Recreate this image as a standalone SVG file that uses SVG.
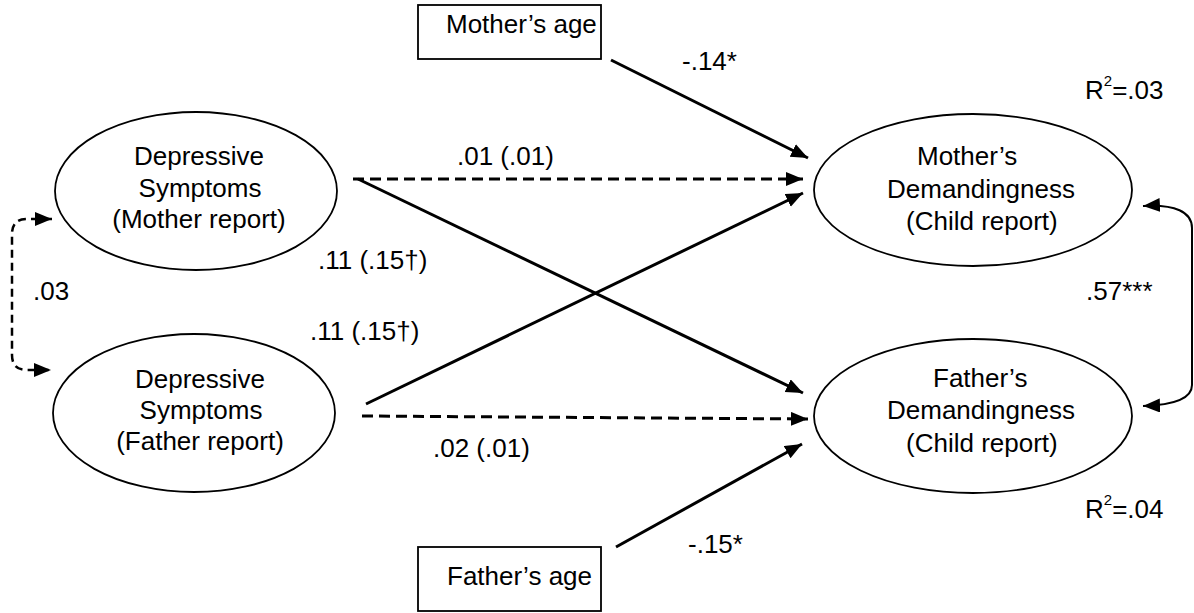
<svg xmlns="http://www.w3.org/2000/svg" width="1194" height="613" viewBox="0 0 1194 613">
<defs>
<style>
text{font-family:"Liberation Sans",Arial,sans-serif;font-size:26px;fill:#000}
.sh{fill:#fff;stroke:#000;stroke-width:1.8}
.ln{fill:none;stroke:#000;stroke-width:3}
.ds{fill:none;stroke:#000;stroke-width:3;stroke-dasharray:11 6}
.sup{font-size:15px}
</style>
<marker id="ah" markerUnits="userSpaceOnUse" markerWidth="18" markerHeight="15" refX="17" refY="7" orient="auto-start-reverse">
<path d="M0,0 L17,7 L0,14 z" fill="#000"/>
</marker>
</defs>
<rect width="1194" height="613" fill="#fff"/>
<g id="connectors">
<line class="ln" x1="611" y1="60" x2="808" y2="158" marker-end="url(#ah)"/>
<line class="ln" x1="616" y1="547" x2="802" y2="444" marker-end="url(#ah)"/>
<line class="ds" x1="353" y1="179" x2="803" y2="179" marker-end="url(#ah)"/>
<line class="ln" x1="358" y1="179" x2="803" y2="393" marker-end="url(#ah)"/>
<line class="ln" x1="366" y1="404" x2="803" y2="193" marker-end="url(#ah)"/>
<line class="ds" x1="362" y1="416" x2="808" y2="419" marker-end="url(#ah)"/>
<path d="M52,219 L27,219 Q12,219 12,234 L12,355 Q12,370 27,370 L51,370" fill="none" stroke="#000" stroke-width="2.5" stroke-dasharray="8 5" marker-start="url(#ah)" marker-end="url(#ah)"/>
<path d="M1143,206 C1175,204 1192,212 1192,228 L1192,385 C1192,398 1175,405 1143,406" fill="none" stroke="#000" stroke-width="2" marker-start="url(#ah)" marker-end="url(#ah)"/>
</g>
<g id="mother_age">
<rect class="sh" x="418" y="5" width="183" height="54"/>
<text x="446" y="33">Mother’s age</text>
</g>
<g id="father_age">
<rect class="sh" x="418" y="547" width="183" height="64"/>
<text x="447" y="585">Father’s age</text>
</g>
<g id="dep_mother">
<ellipse class="sh" cx="196" cy="191" rx="141" ry="79"/>
<text x="199" y="165" text-anchor="middle">Depressive</text>
<text x="200" y="197" text-anchor="middle">Symptoms</text>
<text x="199" y="228" text-anchor="middle">(Mother report)</text>
</g>
<g id="dep_father">
<ellipse class="sh" cx="194" cy="413" rx="141" ry="79"/>
<text x="200" y="388" text-anchor="middle">Depressive</text>
<text x="201" y="419" text-anchor="middle">Symptoms</text>
<text x="200" y="450" text-anchor="middle">(Father report)</text>
</g>
<g id="mother_dem">
<ellipse class="sh" cx="973" cy="190" rx="159" ry="76"/>
<text x="917" y="165">Mother’s</text>
<text x="887" y="198">Demandingness</text>
<text x="906" y="230">(Child report)</text>
</g>
<g id="father_dem">
<ellipse class="sh" cx="973" cy="416" rx="159" ry="77"/>
<text x="933" y="387">Father’s</text>
<text x="887" y="419">Demandingness</text>
<text x="906" y="452">(Child report)</text>
</g>
<g id="labels">
<text x="682" y="70">-.14*</text>
<text x="457" y="165">.01 (.01)</text>
<text x="318" y="269">.11 (.15†)</text>
<text x="310" y="340">.11 (.15†)</text>
<text x="433" y="457">.02 (.01)</text>
<text x="688" y="553">-.15*</text>
<text x="33" y="300">.03</text>
<text x="1086" y="300">.57***</text>
<text x="1085" y="99">R<tspan class="sup" dy="-13">2</tspan><tspan dy="13">=.03</tspan></text>
<text x="1085" y="518">R<tspan class="sup" dy="-13">2</tspan><tspan dy="13">=.04</tspan></text>
</g>
</svg>
